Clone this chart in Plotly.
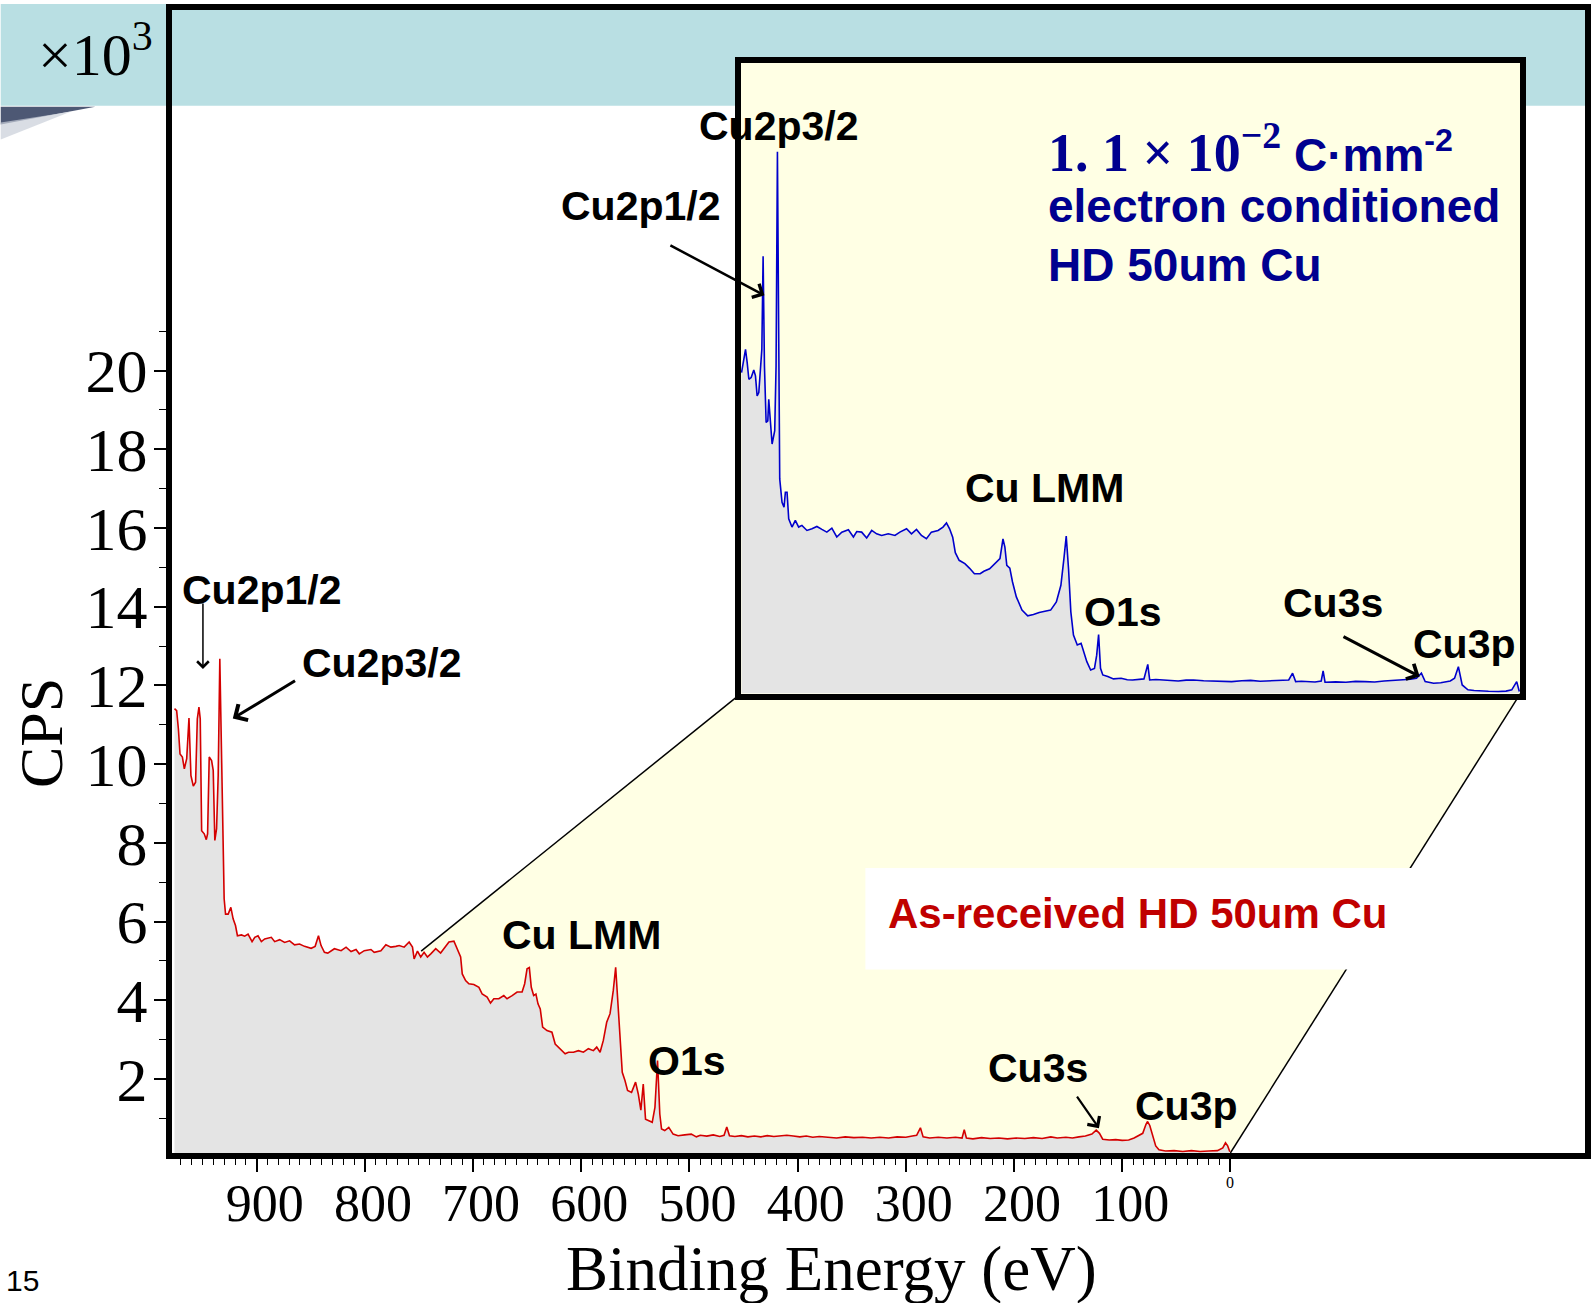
import plotly.graph_objects as go

# ---------------- data (binding energy in eV, intensity in 10^3 CPS) ----------------
# As-received HD 50um Cu (main, red)
red_be = [976.0, 974.0, 972.4, 970.9, 968.7, 966.9, 964.7, 962.6, 960.8, 958.6, 956.5, 954.9,
          953.4, 952.2, 950.9, 948.5, 946.6, 945.4, 943.9, 941.7, 940.2, 938.7, 937.1, 935.6,
          934.1, 932.5, 930.7, 930.1, 928.8, 926.4, 923.9, 921.8, 919.6, 917.8, 914.1, 911.1,
          908.0, 904.3, 901.8, 898.8, 895.7, 892.6, 886.5, 883.4, 878.8, 874.2, 869.6, 865.0,
          860.4, 855.8, 849.7, 846.0, 842.9, 840.5, 837.4, 834.3, 828.2, 822.0, 817.4, 812.8,
          808.2, 805.2, 800.6, 794.4, 791.4, 785.2, 780.6, 776.0, 771.4, 768.3, 763.7, 759.1,
          756.0, 754.5, 751.4, 748.4, 745.3, 742.2, 739.1, 734.5, 730.0, 725.3, 722.3, 717.7,
          714.6, 711.5, 710.0, 706.9, 703.9, 699.3, 694.6, 691.6, 687.0, 683.9, 680.8, 676.2,
          671.6, 668.6, 663.9, 659.3, 654.7, 652.3, 650.1, 648.0, 646.2, 644.0, 641.9, 640.0,
          637.9, 635.7, 631.7, 627.1, 624.1, 619.5, 614.9, 611.8, 607.2, 602.6, 598.0, 593.4,
          588.8, 585.7, 582.6, 579.6, 576.5, 573.4, 570.4, 568.2, 566.4, 564.2, 562.1, 559.6,
          557.2, 553.5, 549.8, 547.3, 544.9, 542.7, 540.6, 537.5, 534.4, 531.9, 529.5, 527.4,
          525.8, 522.8, 519.1, 515.1, 510.5, 504.4, 498.3, 493.6, 490.0, 484.0, 478.0, 472.0,
          468.0, 465.5, 463.0, 458.0, 452.0, 446.0, 440.0, 434.0, 428.0, 422.0, 416.0, 410.0,
          404.0, 398.0, 392.0, 386.0, 380.0, 372.0, 364.0, 356.0, 348.0, 340.0, 332.0, 324.0,
          316.0, 308.0, 300.0, 294.0, 290.0, 286.5, 284.0, 278.0, 270.0, 262.0, 254.0, 248.0,
          246.0, 244.0, 238.0, 230.0, 222.0, 214.0, 206.0, 198.0, 190.0, 182.0, 174.0, 166.0,
          160.0, 152.0, 146.0, 140.0, 134.0, 128.0, 124.0, 121.0, 118.0, 112.0, 106.0, 100.0,
          94.0, 89.0, 85.0, 81.0, 78.0, 76.5, 74.5, 72.0, 69.0, 66.0, 60.0, 52.0,
          44.0, 36.0, 28.0, 20.0, 12.0, 7.0, 4.5, 2.5, 0.5]
red_cps = [11.41, 11.36, 10.90, 10.26, 10.18, 9.88, 10.14, 11.17, 9.71, 9.44, 9.54, 11.15,
           11.45, 11.15, 8.31, 8.23, 8.08, 8.23, 10.18, 10.09, 9.84, 8.06, 8.36, 9.71,
           12.68, 10.56, 7.85, 6.58, 6.19, 6.19, 6.36, 6.07, 5.90, 5.64, 5.66, 5.63,
           5.68, 5.49, 5.60, 5.64, 5.49, 5.56, 5.60, 5.49, 5.54, 5.47, 5.51, 5.41,
           5.43, 5.37, 5.32, 5.37, 5.64, 5.39, 5.22, 5.20, 5.31, 5.26, 5.35, 5.24,
           5.29, 5.18, 5.26, 5.29, 5.22, 5.26, 5.41, 5.35, 5.37, 5.39, 5.35, 5.48,
           5.35, 5.05, 5.25, 5.10, 5.22, 5.10, 5.18, 5.31, 5.20, 5.39, 5.48, 5.50,
           5.31, 5.10, 4.67, 4.50, 4.42, 4.40, 4.33, 4.16, 4.08, 3.93, 4.04, 4.04,
           4.12, 4.04, 4.12, 4.21, 4.21, 4.42, 4.80, 4.83, 4.33, 4.12, 4.16, 3.91,
           3.78, 3.32, 3.23, 3.19, 2.89, 2.77, 2.64, 2.68, 2.68, 2.72, 2.68, 2.77,
           2.72, 2.81, 2.68, 2.98, 3.44, 3.66, 4.25, 4.84, 4.08, 2.98, 2.17, 1.96,
           1.71, 1.66, 1.92, 1.62, 1.21, 1.87, 0.98, 0.94, 0.90, 1.28, 2.47, 1.11,
           0.73, 0.69, 0.77, 0.60, 0.56, 0.58, 0.60, 0.53, 0.57, 0.55, 0.58, 0.54,
           0.57, 0.78, 0.56, 0.54, 0.56, 0.53, 0.55, 0.53, 0.56, 0.54, 0.55, 0.57,
           0.55, 0.53, 0.55, 0.52, 0.54, 0.52, 0.50, 0.53, 0.51, 0.52, 0.50, 0.52,
           0.50, 0.53, 0.52, 0.55, 0.57, 0.76, 0.53, 0.50, 0.52, 0.50, 0.52, 0.50,
           0.71, 0.50, 0.48, 0.51, 0.49, 0.50, 0.48, 0.50, 0.49, 0.51, 0.49, 0.53,
           0.50, 0.52, 0.50, 0.53, 0.55, 0.60, 0.70, 0.62, 0.47, 0.45, 0.46, 0.44,
           0.45, 0.50, 0.55, 0.62, 0.85, 0.92, 0.82, 0.55, 0.30, 0.20, 0.17, 0.18,
           0.16, 0.18, 0.16, 0.17, 0.18, 0.25, 0.38, 0.30, 0.15]

# 1.1e-2 C/mm^2 electron conditioned HD 50um Cu (inset, blue; inset intensity scale)
blue_be = [978.8, 976.3, 973.8, 971.7, 969.6, 966.7, 963.4, 961.3, 959.2, 957.1, 955.0, 953.3,
           951.7, 950.0, 947.9, 945.8, 944.6, 942.9, 940.4, 937.1, 935.4, 933.7, 932.1, 930.8,
           927.9, 925.4, 923.7, 921.6, 919.5, 915.4, 911.2, 907.0, 902.9, 896.6, 890.3, 884.1,
           877.8, 871.6, 865.3, 859.1, 852.8, 844.5, 838.2, 834.0, 827.8, 821.5, 815.2, 809.0,
           802.7, 794.4, 786.0, 779.8, 771.4, 765.2, 758.9, 752.7, 746.4, 740.2, 731.8, 725.6,
           721.2, 717.3, 713.4, 710.1, 705.3, 698.1, 692.4, 686.1, 678.9, 674.2, 667.0, 659.8,
           654.0, 650.2, 647.8, 645.4, 641.6, 638.2, 633.4, 626.3, 619.1, 611.9, 604.7, 597.5,
           590.3, 583.1, 577.4, 573.6, 570.7, 567.8, 564.9, 561.6, 556.8, 552.0, 548.7, 544.8,
           540.0, 535.2, 532.4, 530.0, 527.6, 524.7, 518.5, 511.3, 501.7, 494.0, 487.3, 480.0,
           473.0, 468.2, 465.8, 458.0, 449.0, 440.0, 429.9, 420.0, 410.7, 398.0, 386.8, 375.0,
           362.8, 350.0, 338.9, 327.0, 314.9, 303.0, 291.0, 286.2, 282.3, 275.0, 267.0, 258.0,
           250.2, 247.8, 245.4, 232.0, 219.1, 207.0, 195.2, 183.0, 171.2, 159.0, 147.3, 138.0,
           130.5, 124.3, 119.5, 108.9, 100.0, 94.6, 88.0, 82.6, 77.8, 73.0, 65.8, 58.0,
           51.4, 40.0, 27.5, 18.0, 10.7, 4.5, 1.2]
blue_cps = [15.27, 15.74, 16.37, 15.74, 14.95, 15.03, 15.39, 15.11, 14.16, 14.32, 15.58, 16.37,
            20.80, 15.58, 12.90, 12.97, 14.00, 13.05, 11.87, 12.50, 15.58, 25.77, 18.74, 10.21,
            9.10, 8.87, 9.58, 9.58, 8.31, 7.92, 8.24, 7.92, 8.00, 7.76, 7.84, 7.95,
            7.81, 7.68, 7.87, 7.45, 7.68, 7.79, 7.45, 7.71, 7.68, 7.40, 7.76, 7.60,
            7.52, 7.60, 7.52, 7.68, 7.84, 7.60, 7.81, 7.52, 7.37, 7.68, 7.76, 7.92,
            8.12, 7.84, 7.44, 6.70, 6.34, 6.18, 5.97, 5.70, 5.70, 5.82, 5.94, 6.18,
            6.42, 7.36, 6.97, 6.10, 5.97, 5.31, 4.60, 3.97, 3.70, 3.76, 3.86, 3.92,
            3.97, 4.36, 5.15, 6.42, 7.49, 5.94, 3.89, 2.78, 2.31, 2.39, 1.99, 1.52,
            1.12, 1.20, 1.83, 2.81, 1.20, 0.89, 0.81, 0.70, 0.73, 0.66, 0.65, 0.69,
            0.70, 1.39, 0.65, 0.67, 0.65, 0.62, 0.60, 0.64, 0.65, 0.61, 0.60, 0.58,
            0.57, 0.61, 0.63, 0.59, 0.60, 0.62, 0.65, 0.97, 0.57, 0.59, 0.57, 0.55,
            0.60, 1.08, 0.54, 0.56, 0.54, 0.58, 0.57, 0.55, 0.60, 0.62, 0.65, 0.68,
            0.73, 0.97, 0.57, 0.49, 0.52, 0.54, 0.60, 0.73, 1.28, 0.41, 0.18, 0.15,
            0.13, 0.11, 0.10, 0.12, 0.18, 0.57, 0.10]

x_major = [900, 800, 700, 600, 500, 400, 300, 200, 100, 0]
x_major_text = ["900", "800", "700", "600", "500", "400", "300", "200", "100", ""]
x_minor = [e for e in range(970, 0, -10) if e % 100 != 0]
y_major = [2, 4, 6, 8, 10, 12, 14, 16, 18, 20]
y_minor = [1, 3, 5, 7, 9, 11, 13, 15, 17, 19, 21]

SERIF = "Liberation Serif, Times New Roman, serif"
SANS = "Liberation Sans, Arial, sans-serif"
NAVY = "#00008F"

fig = go.Figure()
fig.add_trace(go.Scatter(x=red_be, y=red_cps, mode="lines", xaxis="x", yaxis="y",
                         line=dict(color="#D40000", width=1.6),
                         fill="tozeroy", fillcolor="#E4E4E4", showlegend=False,
                         hoverinfo="skip"))
fig.add_trace(go.Scatter(x=blue_be, y=blue_cps, mode="lines", xaxis="x2", yaxis="y2",
                         line=dict(color="#0000CC", width=1.6),
                         fill="tozeroy", fillcolor="#E4E4E4", showlegend=False,
                         hoverinfo="skip"))

W, H = 1595, 1303
L, R, T, B = 172, 4, 6, 150


def pxx(px):
    return (px - L) / (W - L - R)


def pxy(py):
    return (H - B - py) / (H - T - B)


shapes = [
    # slide header band
    dict(type="rect", xref="paper", yref="paper", x0=pxx(0), x1=pxx(W), y0=pxy(102), y1=pxy(0),
         fillcolor="#B9DFE3", line=dict(width=0), layer="below"),
    dict(type="path", xref="paper", yref="paper",
         path=f"M {pxx(0)},{pxy(103)} L {pxx(95)},{pxy(103)} L {pxx(0)},{pxy(121)} Z",
         fillcolor="#2E3B5C", line=dict(width=0), layer="below", opacity=0.85),
    dict(type="path", xref="paper", yref="paper",
         path=f"M {pxx(0)},{pxy(119)} L {pxx(70)},{pxy(108)} L {pxx(0)},{pxy(136)} Z",
         fillcolor="#C9CED8", line=dict(width=0), layer="below", opacity=0.7),
    # zoom projection region
    dict(type="path", xref="x", yref="y",
         path="M 748,5.25 L 452.5,11.79 L -268,11.79 L 0,0.12 L 748,0.12 Z",
         fillcolor="#FFFFE4", line=dict(width=0), layer="below"),
    dict(type="line", xref="x", yref="y", x0=748, y0=5.25, x1=452.5, y1=11.79,
         line=dict(color="black", width=1.5), layer="below"),
    dict(type="line", xref="x", yref="y", x0=-268, y0=11.79, x1=0, y1=0.12,
         line=dict(color="black", width=1.5), layer="below"),
    # label box
    dict(type="rect", xref="x", yref="y", x0=337.4, x1=-168.2, y0=4.78, y1=7.36,
         fillcolor="white", line=dict(width=0), layer="below"),
    # inset background
    dict(type="rect", xref="x2 domain", yref="y2 domain", x0=0, x1=1, y0=0, y1=1,
         fillcolor="#FFFFE4", line=dict(width=0), layer="below"),
]

lab_font = dict(family=SANS, size=41, color="black", weight="bold")
ann = []


def label(text, x, y, xref="x", yref="y", font=lab_font, **kw):
    ann.append(dict(text=text, x=x, y=y, xref=xref, yref=yref, showarrow=False,
                    font=font, xanchor=kw.pop("xanchor", "center"),
                    yanchor=kw.pop("yanchor", "middle"), **kw))


def arrow(x_tip, y_tip, x_tail, y_tail, width, size, xref="x", yref="y"):
    ann.append(dict(text="", x=x_tip, y=y_tip, ax=x_tail, ay=y_tail, xref=xref, yref=yref,
                    axref=xref, ayref=yref, showarrow=True, arrowhead=4,
                    arrowsize=size, arrowwidth=width, arrowcolor="black"))


# main labels
label("Cu2p1/2", 895.4, 14.42)
arrow(949.7, 12.42, 949.7, 14.12, 1.5, 1.5)
label("Cu2p3/2", 784.1, 12.57)
arrow(922.1, 11.16, 863.2, 12.14, 3, 1.2)
label("Cu LMM", 600.0, 5.66)
label("O1s", 502.5, 2.45)
label("Cu3s", 177.6, 2.27)
arrow(121.5, 0.75, 142.7, 1.59, 2.2, 1.3)
label("Cu3p", 40.5, 1.31)
label("As-received HD 50um Cu", 85.6, 6.2,
      font=dict(family="Liberation Sans Narrow, Arial Narrow, " + SANS, size=42,
                color="#C00000", weight="bold"))

# inset labels
label("Cu2p1/2", 544.8, 24.17)
arrow(430.7, 21.91, 519.0, 23.2, 2.5, 1.2)
label("Cu2p3/2", 931.2, 27.01, xref="x2", yref="y2")
label("Cu LMM", 598.3, 9.76, xref="x2", yref="y2")
label("O1s", 499.4, 3.89, xref="x2", yref="y2")
label("Cu3s", 235.3, 4.31, xref="x2", yref="y2")
arrow(126.4, 0.81, 224.1, 2.75, 3, 1.1, xref="x2", yref="y2")
label("Cu3p", 70.1, 2.37, xref="x2", yref="y2")

inset_font = dict(family=SANS, size=46, color=NAVY, weight="bold")
label('<span style="font-family:Liberation Serif;font-weight:bold;font-size:54px">'
      '1. 1 × 10<sup>−2</sup></span> C·mm<sup>-2</sup>',
      595.8, 25.92, xref="x2", yref="y2", font=inset_font, xanchor="left")
label("electron conditioned", 595.8, 23.18, xref="x2", yref="y2", font=inset_font, xanchor="left")
label("HD 50um Cu", 595.8, 20.38, xref="x2", yref="y2", font=inset_font, xanchor="left")

# axis titles and slide text
label("CPS", pxx(41), pxy(732), xref="paper", yref="paper",
      font=dict(family=SERIF, size=62, color="black"), textangle=-90)
label("Binding Energy (eV)", pxx(834), pxy(1269), xref="paper", yref="paper",
      font=dict(family=SERIF, size=63, color="black"))
label("×10<sup>3</sup>", pxx(95), pxy(47), xref="paper", yref="paper",
      font=dict(family=SERIF, size=60, color="black"))
label("0", 0, pxy(1183), xref="x", yref="paper",
      font=dict(family=SERIF, size=16, color="black"))
label("15", pxx(22), pxy(1281), xref="paper", yref="paper",
      font=dict(family=SANS, size=30, color="black"))

fig.update_layout(
    width=W, height=H,
    margin=dict(l=L, r=R, t=T, b=B),
    paper_bgcolor="white", plot_bgcolor="rgba(0,0,0,0)",
    showlegend=False,
    shapes=shapes, annotations=ann,
    xaxis=dict(range=[978.3, -327.8], domain=[0, 1], showline=True, linewidth=6,
               linecolor="black", mirror=True, ticks="outside", tickvals=x_major,
               ticktext=x_major_text, ticklen=13, tickwidth=1.5, tickcolor="black",
               tickfont=dict(family=SERIF, size=52, color="black"), ticklabelstandoff=-13,
               ticklabelshift=-8, showgrid=False, zeroline=False,
               minor=dict(tickvals=x_minor, ticks="outside", ticklen=6, tickwidth=1.2,
                          tickcolor="black", showgrid=False)),
    yaxis=dict(range=[0.12, 29.16], domain=[0, 1], showline=True, linewidth=6,
               linecolor="black", mirror=True, ticks="outside", tickvals=y_major,
               ticklen=12, tickwidth=1.5, tickcolor="black",
               tickfont=dict(family=SERIF, size=62, color="black"), ticklabelstandoff=-6,
               showgrid=False, zeroline=False,
               minor=dict(tickvals=y_minor, ticks="outside", ticklen=7, tickwidth=1.2,
                          tickcolor="black", showgrid=False)),
    xaxis2=dict(domain=[pxx(743), pxx(1526)], anchor="y2", range=[980, 0], showline=True,
                linewidth=6, linecolor="black", mirror=True, ticks="", showticklabels=False,
                showgrid=False, zeroline=False),
    yaxis2=dict(domain=[pxy(692), pxy(59)], anchor="x2", range=[0, 30], showline=True,
                linewidth=6, linecolor="black", mirror=True, ticks="", showticklabels=False,
                showgrid=False, zeroline=False),
)

fig.write_html("out.html")
